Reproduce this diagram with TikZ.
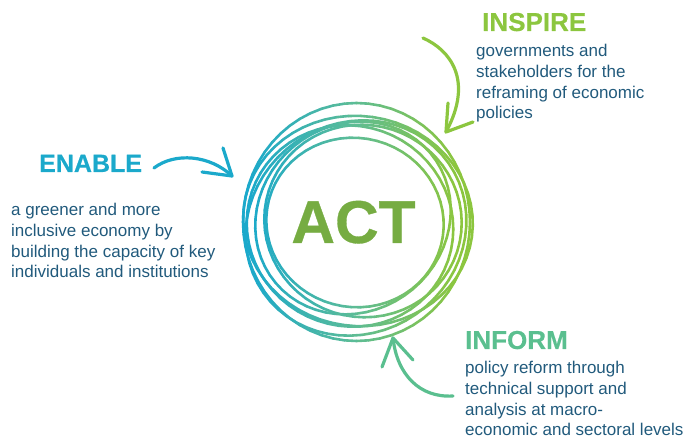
\documentclass[tikz,border=0pt]{standalone}
\usepackage{fontspec}
\setmainfont{Liberation Sans}[BoldFeatures={FakeBold=0.5}]
\definecolor{ringblue}{HTML}{1BA9CB}
\definecolor{ringmid}{HTML}{5CBC97}
\definecolor{ringgreen}{HTML}{8CC63F}
\definecolor{bodyblue}{HTML}{215A7C}
\definecolor{actgreen}{HTML}{76AC42}
\definecolor{informgreen}{HTML}{5ABF8F}
\tikzset{
  bodytext/.style={inner sep=0pt,align=left,text=bodyblue,font=\fontsize{17}{20.8}\selectfont},
  headtext/.style={inner sep=0pt,font=\fontsize{26}{26}\bfseries\selectfont},
  arrowline/.style={line width=3.2pt,line cap=round,line join=round},
}
\begin{document}
\begin{tikzpicture}[x=1pt,y=-1pt]
\useasboundingbox (0,0) rectangle (689,438);
% rings
\foreach \cx/\cy/\rx/\ry/\rot in {
  356.5/222/113.5/119/0,
  358/221/115/105/8,
  356/228/113/105/-35,
  350/226/104/100/25,
  363/221/99/96/18,
  353/218/101/93/-40,
  355/222.5/89/84.5/15}{
  \foreach \a in {0,6,...,354}{
    \pgfmathsetmacro\bx{\cx+\rx*cos(\a)*cos(\rot)-\ry*sin(\a)*sin(\rot)}
    \pgfmathsetmacro\by{\cy+\rx*cos(\a)*sin(\rot)+\ry*sin(\a)*cos(\rot)}
    \pgfmathsetmacro\ex{\cx+\rx*cos(\a+6)*cos(\rot)-\ry*sin(\a+6)*sin(\rot)}
    \pgfmathsetmacro\ey{\cy+\rx*cos(\a+6)*sin(\rot)+\ry*sin(\a+6)*cos(\rot)}
    \pgfmathsetmacro\tt{max(0,min(100,((\bx+\ex)/2-250)/205*100))}
    \pgfmathsetmacro\lo{min(100,2*\tt)}
    \pgfmathsetmacro\hi{max(0,2*\tt-100)}
    \ifdim\tt pt<50pt \colorlet{segc}{ringmid!\lo!ringblue}\else\colorlet{segc}{ringgreen!\hi!ringmid}\fi
    \draw[segc,line width=2.6pt,line cap=round] (\bx,\by) -- (\ex,\ey);
  }
}
% texts
\node[text=actgreen,font=\fontsize{60.5}{60}\bfseries\selectfont,inner sep=0pt,anchor=base] (act) at (353.5,243) {ACT};
\node[headtext,text=ringblue,anchor=base west,font=\fontsize{25}{26}\bfseries\selectfont] (enable) at (39,172) {ENABLE};
\node[headtext,text=ringgreen,anchor=base west] (inspire) at (482,31) {INSPIRE};
\node[headtext,text=informgreen,anchor=base west] (inform) at (465,349) {INFORM};
\node[bodytext,anchor=north west] (enabletext) at (11,203) {a greener and more\\inclusive economy by\\building the capacity of key\\individuals and institutions};
\node[bodytext,anchor=north west] (inspiretext) at (476,44) {governments and\\stakeholders for the\\reframing of economic\\policies};
\node[bodytext,anchor=north west] (informtext) at (465,361) {policy reform through\\technical support and\\analysis at macro-\\economic and sectoral levels};
% arrows
\coordinate (inspA) at (423,38);
\coordinate (inspT) at (446,132);
\coordinate (inspL) at (448,103);
\coordinate (inspR) at (473,122);
\draw[arrowline,ringgreen] (inspA) .. controls (450,50) and (474,80) .. (inspT);
\draw[arrowline,ringgreen] (inspL) -- (inspT) -- (inspR);
\coordinate (enA) at (154,168);
\coordinate (enT) at (232,176);
\coordinate (enL) at (223,148);
\coordinate (enR) at (202,172);
\draw[arrowline,ringblue] (enA) .. controls (175,152) and (210,155) .. (enT);
\draw[arrowline,ringblue] (enL) -- (enT) -- (enR);
\coordinate (infA) at (453,396);
\coordinate (infT) at (393,338);
\coordinate (infL) at (382,367);
\coordinate (infR) at (413,360);
\draw[arrowline,informgreen] (infA) .. controls (420,398) and (397,375) .. (infT);
\draw[arrowline,informgreen] (infL) -- (infT) -- (infR);
\end{tikzpicture}
\end{document}
